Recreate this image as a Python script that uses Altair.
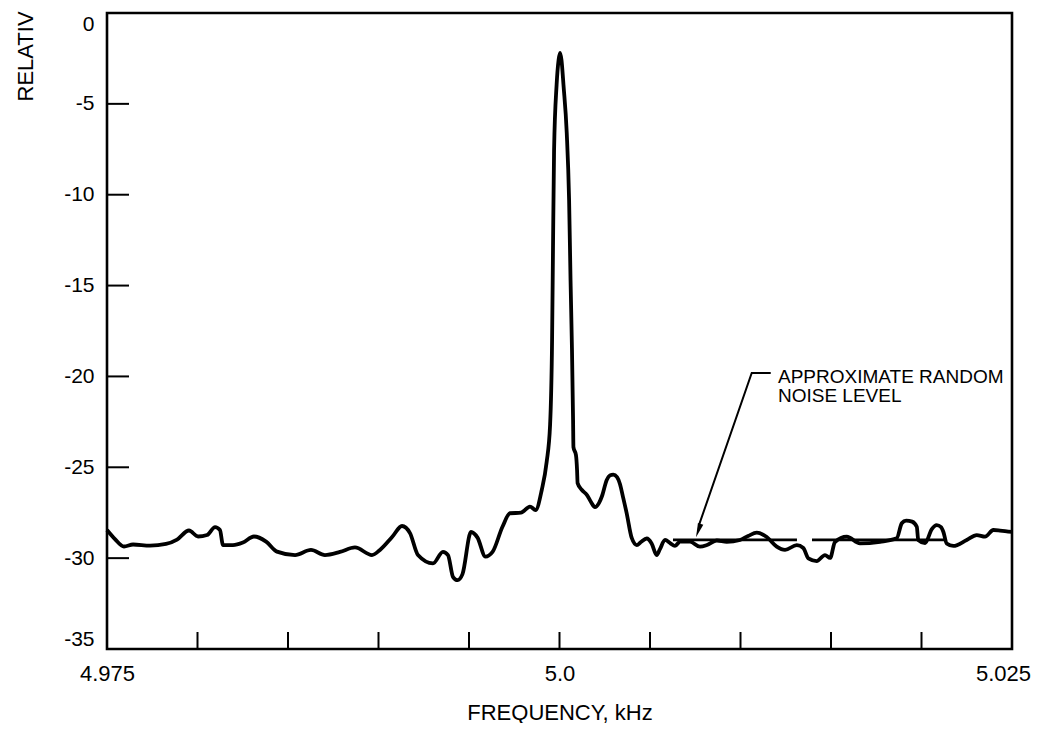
import altair as alt
import pandas as pd

# ---- data ----
freq = [4.97500, 4.97544, 4.97594, 4.97644, 4.97738, 4.97826, 4.97887, 4.97953, 4.98003, 4.98053,
        4.98097, 4.98124, 4.98141, 4.98196, 4.98251, 4.98312, 4.98379, 4.98439, 4.98539, 4.98627,
        4.98704, 4.98787, 4.98870, 4.98964, 4.99008, 4.99075, 4.99130, 4.99174, 4.99218, 4.99301,
        4.99356, 4.99384, 4.99412, 4.99437, 4.99464, 4.99511, 4.99547, 4.99591, 4.99630, 4.99685,
        4.99727, 4.99787, 4.99837, 4.99868, 4.99902, 4.99929, 4.99948, 4.99959, 4.99964, 4.99970,
        4.99984, 4.99995, 5.00003, 5.00011, 5.00022, 5.00040, 5.00053, 5.00061, 5.00069, 5.00075,
        5.00077, 5.00091, 5.00097, 5.00100, 5.00124, 5.00152, 5.00174, 5.00196, 5.00218, 5.00235,
        5.00261, 5.00279, 5.00297, 5.00318, 5.00334, 5.00351, 5.00371, 5.00399, 5.00427, 5.00450,
        5.00482, 5.00509, 5.00537, 5.00555, 5.00583, 5.00611, 5.00638, 5.00666, 5.00721, 5.00776,
        5.00815, 5.00869, 5.00924, 5.00997, 5.01042, 5.01090, 5.01145, 5.01200, 5.01246, 5.01311,
        5.01347, 5.01375, 5.01421, 5.01467, 5.01495, 5.01522, 5.01587, 5.01660, 5.01771, 5.01863,
        5.01891, 5.01915, 5.01948, 5.01974, 5.01982, 5.02020, 5.02057, 5.02084, 5.02108, 5.02121,
        5.02139, 5.02176, 5.02250, 5.02305, 5.02351, 5.02397, 5.02434, 5.02500]

level = [-28.45, -28.95, -29.36, -29.25, -29.31, -29.22, -28.98, -28.48, -28.81, -28.73,
         -28.29, -28.45, -29.28, -29.28, -29.14, -28.81, -29.09, -29.64, -29.83, -29.55,
         -29.83, -29.66, -29.41, -29.83, -29.55, -28.84, -28.23, -28.62, -29.83, -30.29,
         -29.65, -29.83, -31.04, -31.21, -30.88, -28.56, -28.87, -29.92, -29.66, -28.27,
         -27.53, -27.50, -27.16, -27.35, -26.25, -24.71, -22.67, -18.00, -13.04, -7.54,
         -3.96, -2.59, -2.20, -2.59, -3.96, -6.60, -10.29, -14.69, -18.55, -22.40,
         -23.89, -24.33, -25.15, -25.87, -26.25, -26.53, -26.91, -27.19, -26.97, -26.58,
         -25.70, -25.45, -25.40, -25.54, -25.92, -26.64, -27.52, -28.89, -29.28, -29.11,
         -28.92, -29.19, -29.83, -29.50, -29.00, -29.17, -29.33, -29.09, -29.09, -29.37,
         -29.28, -29.03, -29.10, -29.00, -28.78, -28.60, -28.84, -29.37, -29.55, -29.28,
         -29.44, -30.01, -30.16, -29.83, -29.99, -29.11, -28.82, -29.19, -29.10, -28.91,
         -28.08, -27.93, -27.99, -28.27, -29.00, -29.17, -28.40, -28.18, -28.29, -28.56,
         -29.19, -29.33, -29.00, -28.73, -28.82, -28.45, -28.48, -28.56]

noise_seg = [1, 1, 2, 2]
noise_f = [5.00627, 5.01312, 5.01395, 5.02135]
noise_db = [-29.0, -29.0, -29.0, -29.0]

arrow_order = [0, 1, 2]
arrow_f = [5.01167, 5.01062, 5.00770]
arrow_db = [-19.81, -19.81, -28.20]
head_f = [5.00767]
head_db = [-28.48]

note_lines = ["APPROXIMATE RANDOM", "NOISE LEVEL"]
note_f = [5.01207, 5.01207]
note_db = [-20.36, -21.41]

y_ticks = [0, -5, -10, -15, -20, -25, -30, -35]
y_inner_ticks = [-5, -10, -15, -20, -25, -30]
x_label_values = [4.975, 5.0, 5.025]
x_label_text = ["4.975", "5.0", "5.025"]
x_inner_ticks = [4.980, 4.985, 4.990, 4.995, 5.000, 5.005, 5.010, 5.015, 5.020]

W, H = 905, 636

curve_df = pd.DataFrame({"f": freq, "db": level})
noise_df = pd.DataFrame({"seg": noise_seg, "f": noise_f, "db": noise_db})
arrow_df = pd.DataFrame({"i": arrow_order, "f": arrow_f, "db": arrow_db})
head_df = pd.DataFrame({"f": head_f, "db": head_db})
note_df = pd.DataFrame({"t": note_lines, "f": note_f, "db": note_db})
yt_df = pd.DataFrame({"db": y_inner_ticks})
xt_df = pd.DataFrame({"f": x_inner_ticks})

label_expr = " : ".join(
    [f"abs(datum.value - {v}) < 0.0001 ? '{t}'" for v, t in zip(x_label_values, x_label_text)]
) + " : ''"

xscale = alt.Scale(domain=[4.975, 5.025], nice=False, zero=False)
yscale = alt.Scale(domain=[-35, 0], nice=False, zero=False)

x_axis = alt.Axis(values=x_label_values, labelExpr=label_expr, tickSize=0, domain=False,
                  grid=False, labelFontSize=22, labelPadding=14, labelFlush=False,
                  labelOverlap=False,
                  labelOffset={"condition": {"test": "datum.value > 5.02", "value": -9}, "value": 0},
                  title="FREQUENCY, kHz", titleFontSize=22,
                  titleFontWeight="normal", titleY=70, titleBaseline="alphabetic")
y_axis = alt.Axis(values=y_ticks, labelExpr="toString(datum.value)", tickSize=0, domain=False,
                  grid=False, labelFontSize=21, labelPadding=13, labelFlush=True,
                  labelOverlap=False,
                  title="RELATIV", titleFontSize=22, titleFontWeight="normal",
                  titleAngle=270, titleAlign="left", titleBaseline="alphabetic",
                  titleX=-75, titleY=88)

curve = alt.Chart(curve_df).mark_line(color="black", strokeWidth=3.8, interpolate="monotone").encode(
    x=alt.X("f:Q", scale=xscale, axis=x_axis),
    y=alt.Y("db:Q", scale=yscale, axis=y_axis),
)

noise = alt.Chart(noise_df).mark_line(color="black", strokeWidth=2.8).encode(
    x=alt.X("f:Q", scale=xscale), y=alt.Y("db:Q", scale=yscale), detail="seg:N"
)

arrow = alt.Chart(arrow_df).mark_line(color="black", strokeWidth=2).encode(
    x=alt.X("f:Q", scale=xscale), y=alt.Y("db:Q", scale=yscale), order="i:Q"
)

head = alt.Chart(head_df).mark_point(shape="M0,-1L0.4,1L-0.4,1Z", filled=True, color="black",
                                     size=200, angle=199, opacity=1).encode(
    x=alt.X("f:Q", scale=xscale), y=alt.Y("db:Q", scale=yscale)
)

notes = alt.Chart(note_df).mark_text(align="left", baseline="alphabetic", fontSize=19,
                                     color="black").encode(
    x=alt.X("f:Q", scale=xscale), y=alt.Y("db:Q", scale=yscale), text="t:N"
)

yticks = alt.Chart(yt_df).mark_rule(color="black", strokeWidth=2).encode(
    y=alt.Y("db:Q", scale=yscale), x=alt.value(0), x2=alt.value(22)
)

xticks = alt.Chart(xt_df).mark_rule(color="black", strokeWidth=2).encode(
    x=alt.X("f:Q", scale=xscale), y=alt.value(H - 17), y2=alt.value(H)
)

chart = alt.layer(yticks, xticks, noise, curve, arrow, head, notes).properties(
    width=W, height=H,
    padding={"left": 99, "top": 5, "right": 21, "bottom": 74},
    autosize=alt.AutoSizeParams(type="none"),
).configure(font="Liberation Sans").configure_view(
    stroke="black", strokeWidth=2.6
).configure_axis(labelColor="black", titleColor="black")

chart.save("out.html", embed_options={"renderer": "svg", "actions": False})
